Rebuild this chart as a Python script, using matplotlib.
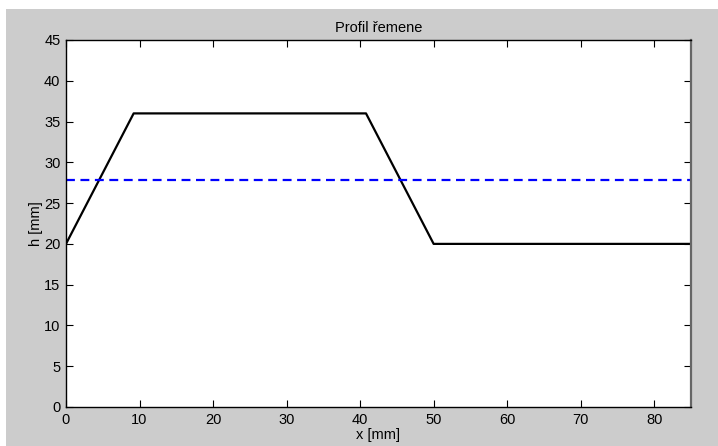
import matplotlib
matplotlib.use('Agg')
import matplotlib.pyplot as plt
from matplotlib.patches import Rectangle

# Profil remene: vyska h podel delky x
x_mm = [0, 9.2, 40.8, 50, 85]
h_mm = [20, 36, 36, 20, 20]
h_mean = 27.8
x_lim = [0, 85]
y_lim = [0, 45]
x_ticks = [0, 10, 20, 30, 40, 50, 60, 70, 80]
y_ticks = [0, 5, 10, 15, 20, 25, 30, 35, 40, 45]

plt.rcParams['font.family'] = ['Liberation Sans', 'DejaVu Sans']

W, H = 718, 446
fig = plt.figure(figsize=(W / 100, H / 100), dpi=100, facecolor='white')
# seda plocha okna
fig.add_artist(Rectangle((6 / W, 0), 1 - 6 / W, 1 - 9 / H,
                         transform=fig.transFigure, facecolor='#cccccc',
                         edgecolor='none', zorder=-10))

left, right, top, bottom = 66, 691, 40, 407
ax = fig.add_axes([left / W, 1 - bottom / H, (right - left) / W, (bottom - top) / H])
ax.set_zorder(5)
ax.set_facecolor('white')

ax.plot(x_mm, h_mm, color='black', lw=1.6)
ax.plot(x_lim, [h_mean, h_mean], color='#0000ff', lw=1.6, ls=(0, (4, 2.5)))

ax.set_xlim(x_lim)
ax.set_ylim(y_lim)
ax.set_xticks(x_ticks)
ax.set_yticks(y_ticks)
ax.tick_params(direction='in', length=5, width=0.8, top=True, right=True,
               labelsize=10.5, pad=4, colors='black')
for s in ax.spines.values():
    s.set_linewidth(1.0)
ax.spines['right'].set_color('#666666')
ax.spines['right'].set_linewidth(1.6)

ax.set_title('Profil řemene', fontsize=10.5, pad=6)
ax.set_xlabel('x [mm]', fontsize=10.5, labelpad=1)
ax.set_ylabel('h [mm]', fontsize=10.5, labelpad=1)

fig.savefig('out.png', dpi=100, facecolor='white')
